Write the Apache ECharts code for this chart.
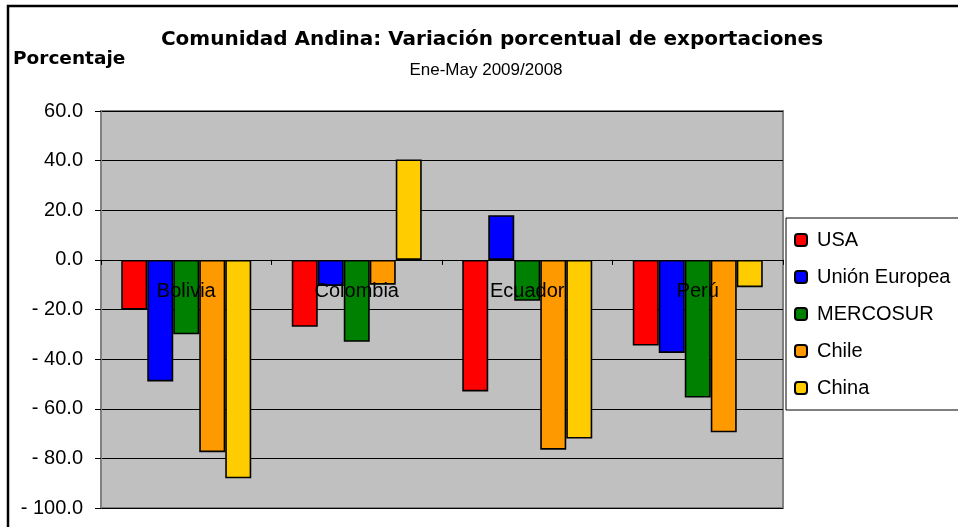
<!DOCTYPE html>
<html>
<head>
<meta charset="utf-8">
<script src="https://cdn.jsdelivr.net/npm/echarts@6/dist/echarts.min.js"></script>
<style>
  html, body { margin: 0; padding: 0; background: #fff; }
  #chart { width: 958px; height: 527px; }
</style>
</head>
<body>
<div id="chart"></div>
<script>
// datos
const paises = ['Bolivia', 'Colombia', 'Ecuador', 'Perú'];
const usa = [-20.0, -27.0, -53.0, -34.5];
const unionEuropea = [-49.0, -10.5, 18.0, -37.5];
const mercosur = [-30.0, -33.0, -16.5, -55.5];
const chile = [-77.5, -10.0, -76.5, -69.5];
const china = [-88.0, 40.5, -72.0, -11.0];
const ejeY = [-100, 60, 20]; // min, max, intervalo

const colores = ['#ff0000', '#0000ff', '#008000', '#ff9900', '#ffcc00'];

const chart = echarts.init(document.getElementById('chart'));

const fuente = 'Liberation Sans, Arial, sans-serif';
const fuenteTitulo = 'DejaVu Sans, Liberation Sans, sans-serif';

const altoGrid = 397;
// el eje de categorías va sobre la línea del cero
const desplazamiento = -altoGrid * (0 - ejeY[0]) / (ejeY[1] - ejeY[0]);

function serie(nombre, datos, color) {
  return {
    name: nombre,
    type: 'bar',
    data: datos,
    barWidth: 26,
    barGap: '0%',
    itemStyle: { color: color, borderColor: '#000', borderWidth: 1.6 }
  };
}

const option = {
  animation: false,
  textStyle: { fontFamily: fuente },
  title: [
    {
      text: 'Comunidad Andina: Variación porcentual de exportaciones',
      left: 487, top: 25, textAlign: 'center',
      textStyle: { fontSize: 20, fontWeight: 'bold', color: '#000', fontFamily: fuenteTitulo }
    },
    {
      text: 'Ene-May 2009/2008',
      left: 481, top: 57, textAlign: 'center',
      textStyle: { fontSize: 17, fontWeight: 'normal', color: '#000', fontFamily: fuente }
    },
    {
      text: 'Porcentaje',
      left: 8, top: 45,
      textStyle: { fontSize: 18.5, fontWeight: 'bold', color: '#000', fontFamily: fuenteTitulo }
    }
  ],
  graphic: [
    {
      type: 'rect',
      shape: { x: 8, y: 6, width: 1000, height: 600 },
      style: { fill: 'none', stroke: '#000', lineWidth: 2.5 },
      silent: true
    }
  ],
  legend: {
    orient: 'vertical',
    left: 786,
    top: 218,
    padding: [12, 30, 12, 8],
    itemWidth: 12,
    itemHeight: 12,
    itemGap: 17,
    backgroundColor: '#fff',
    borderColor: '#000',
    borderWidth: 1,
    textStyle: { fontSize: 20, color: '#000', fontFamily: fuente, padding: [0, 0, 0, 5] },
    data: ['USA', 'Unión Europea', 'MERCOSUR', 'Chile', 'China']
  },
  grid: {
    left: 101, top: 111, width: 682, height: altoGrid,
    outerBoundsMode: 'none',
    containLabel: false,
    show: true,
    backgroundColor: '#c0c0c0',
    borderColor: '#808080',
    borderWidth: 2
  },
  xAxis: {
    type: 'category',
    data: paises,
    z: 5,
    position: 'bottom',
    offset: desplazamiento,
    axisLine: { onZero: false, lineStyle: { color: '#000', width: 1 } },
    axisTick: { show: true, length: 5, lineStyle: { color: '#000' } },
    axisLabel: { color: '#000', fontSize: 20, margin: 22, fontFamily: fuente },
    splitLine: { show: false }
  },
  yAxis: {
    type: 'value',
    min: ejeY[0],
    max: ejeY[1],
    interval: ejeY[2],
    axisLine: { show: true, lineStyle: { color: '#808080', width: 1 } },
    axisTick: { show: true, length: 6, lineStyle: { color: '#000' } },
    axisLabel: {
      color: '#000', fontSize: 20, margin: 18, fontFamily: fuente,
      formatter: function (v) {
        return v < 0 ? '- ' + Math.abs(v).toFixed(1) : v.toFixed(1);
      }
    },
    splitLine: { show: true, lineStyle: { color: '#000', width: 1 } }
  },
  series: [
    serie('USA', usa, colores[0]),
    serie('Unión Europea', unionEuropea, colores[1]),
    serie('MERCOSUR', mercosur, colores[2]),
    serie('Chile', chile, colores[3]),
    serie('China', china, colores[4])
  ]
};

chart.setOption(option);
</script>
</body>
</html>
